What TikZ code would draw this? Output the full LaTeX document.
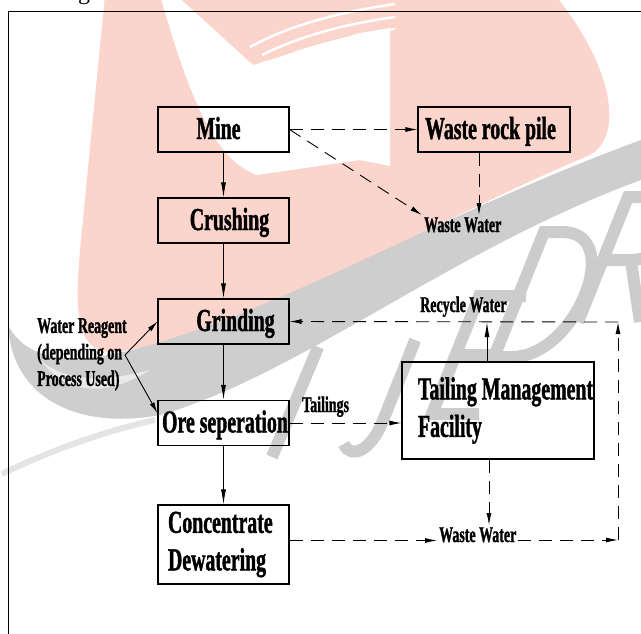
\documentclass[tikz,border=0pt]{standalone}
\usepackage{fontspec}
\setmainfont{Liberation Serif}[FakeStretch=0.62, BoldFont={Liberation Serif Bold}, BoldFeatures={FakeStretch=0.62, FakeBold=1.2}]
\newfontfamily\plainserif{Liberation Serif}
\usetikzlibrary{arrows.meta}
\definecolor{wmpink}{RGB}{251,212,204}
\definecolor{wmgrey}{RGB}{206,206,206}
\definecolor{wmlight}{RGB}{228,228,228}
\definecolor{wmletter}{RGB}{204,204,204}
\begin{document}
\begin{tikzpicture}[x=1pt,y=-1pt,
  box/.style={draw=black, line width=1.1pt, minimum width=131pt, minimum height=45pt, inner sep=0pt,
    font=\bfseries\fontsize{32}{37}\selectfont, text height=22pt, text depth=3pt},
  mbox/.style={draw=black, line width=1.1pt, inner ysep=0pt, align=left,
    font=\bfseries\fontsize{32}{37.5}\selectfont},
  lbl/.style={inner sep=2pt, font=\bfseries\fontsize{22.5}{26.5}\selectfont},
  sol/.style={line width=0.9pt, -{Latex[length=15pt,width=5pt]}},
  thin/.style={line width=0.9pt, -{Latex[length=11pt,width=5pt]}},
  dsh/.style={line width=0.9pt, dash pattern=on 13pt off 8pt, -{Latex[length=12pt,width=5pt]}},
  letter/.style={wmletter, line width=12pt, line join=miter},
]
\useasboundingbox (0,0) rectangle (641,633);
% ---------- watermark ----------
\fill[wmpink] (105,-5) -- (80,250) .. controls (76,300) and (72,355) .. (115,352)
  .. controls (250,335) and (400,235) .. (590,155)
  .. controls (625,135) and (612,65) .. (555,-5) -- cycle;
\fill[white] (160,-5) .. controls (190,100) and (215,160) .. (257,175) -- (360,160) -- (390,166)
  -- (390,28) -- (360,33) -- (253,65) -- (176,-5) -- cycle;
\draw[white, line width=2.5pt] (250,47) .. controls (290,25) and (340,12) .. (395,4);
\draw[white, line width=2.5pt] (262,55) .. controls (300,36) and (345,24) .. (395,17);
\draw[white, line width=2pt] (275,60) .. controls (310,46) and (350,36) .. (395,29);
\fill[wmgrey] (8,325) .. controls (12,400) and (80,430) .. (160,415)
  .. controls (300,375) and (450,250) .. (641,180) -- (641,140)
  .. controls (450,210) and (300,300) .. (160,342)
  .. controls (90,364) and (30,368) .. (8,325) -- cycle;
\fill[white!55!wmgrey] (40,360) .. controls (70,385) and (110,380) .. (150,370)
  .. controls (110,395) and (70,398) .. (40,360) -- cycle;
\draw[wmlight, line width=6pt] (2,474) .. controls (40,455) and (100,432) .. (155,420);
\begin{scope}[shift={(272,457)}, xslant=0.42]
  \draw[letter] (0,0) -- (0,-110);
\end{scope}
\begin{scope}[shift={(368,458)}, xslant=0.40]
  \draw[letter] (0,-118) -- (0,-36) .. controls (0,-8) and (-16,2) .. (-30,-14);
\end{scope}
\begin{scope}[shift={(432,414)}, xslant=0.40]
  \draw[letter] (47,-118) -- (0,-118) -- (0,0) -- (47,0);
  \draw[letter] (0,-59) -- (40,-59);
\end{scope}
\begin{scope}[shift={(494,357)}, xslant=0.40]
  \draw[letter] (0,0) -- (0,-125) -- (18,-125) .. controls (82,-125) and (82,0) .. (18,0) -- cycle;
\end{scope}
\begin{scope}[shift={(578,322)}, xslant=0.40]
  \draw[letter] (0,0) -- (0,-125) -- (28,-125) .. controls (70,-125) and (70,-62) .. (28,-62) -- (0,-62);
  \draw[letter] (28,-62) -- (62,0);
\end{scope}
% ---------- frame and cut caption ----------
\draw[line width=0.8pt] (645,11) -- (8,11) -- (8,640);
\node[font=\plainserif\fontsize{24}{24}\selectfont, anchor=base, inner sep=0pt] (gcap) at (84,-1) {g};
% ---------- boxes ----------
\node[box] (mine) at (223.5,129.5) {\hspace*{-10pt}Mine};
\node[box] (crush) at (223.5,220.5) {\hspace*{12pt}Crushing};
\node[box] (grind) at (223.5,321.5) {\hspace*{24pt}Grinding};
\node[box] (ore) at (223.5,423) {\hspace*{3pt}Ore seperation};
\node[box, minimum width=152pt] (wrp) at (494,129.5) {\hspace*{-7pt}Waste rock pile};
\node[mbox, minimum height=79pt, text width=111pt, inner xsep=10pt] (conc) at (223.5,544.5) {Concentrate\\Dewatering};
\node[mbox, minimum height=97pt, text width=160pt, inner xsep=16pt] (tmf) at (498,410.5) {\spaceskip=0pt\relax\makebox[160pt][l]{Tailing Management}\\Facility};
% ---------- labels ----------
\node[lbl, anchor=base west] (ww1) at (422,232) {Waste Water};
\node[lbl, anchor=base west] (rw) at (418,312) {Recycle Water};
\node[lbl, anchor=base west] (ww2) at (437,542) {Waste Water};
\node[lbl, anchor=base west] (tail) at (300,412) {Tailings};
\node[lbl, anchor=north west, align=left, inner sep=0pt] (wr) at (37,318) {\spaceskip=0pt\relax Water Reagent\\(depending on\\Process Used)};
\coordinate (bk) at (125,355);
\coordinate (c1) at (618,540);
\coordinate (c2) at (618,322);
% ---------- connectors ----------
\draw[sol] (mine) -- (crush);
\draw[sol] (crush) -- (grind);
\draw[sol] (grind) -- (ore);
\draw[sol] (ore) -- (conc);
\draw[dsh] (mine.east) -- (wrp.west);
\draw[dsh] (mine.east) -- (ww1.north west);
\draw[dsh] ([xshift=-15pt]wrp.south) -- ([xshift=-15pt]wrp.south |- ww1.north);
\draw[sol] ([xshift=-11pt]tmf.north) -- ([xshift=-11pt]tmf.north |- c2);
\draw[dsh] (c2) -- (grind.east);
\draw[dsh] (ore.east) -- (ore.east -| tmf.west);
\draw[dsh] ([xshift=-9pt]tmf.south) -- ([xshift=-9pt]tmf.south |- ww2.north);
\draw[dsh] ([yshift=4pt]conc.east) -- ([yshift=4pt]conc.east -| ww2.west);
\draw[dsh] (ww2.east |- c1) -- (c1);
\draw[dsh] (c1) -- (c2);
\draw[thin] (bk) -- (grind.west);
\draw[thin] (bk) -- ([yshift=10pt]ore.west);
\end{tikzpicture}
\end{document}
